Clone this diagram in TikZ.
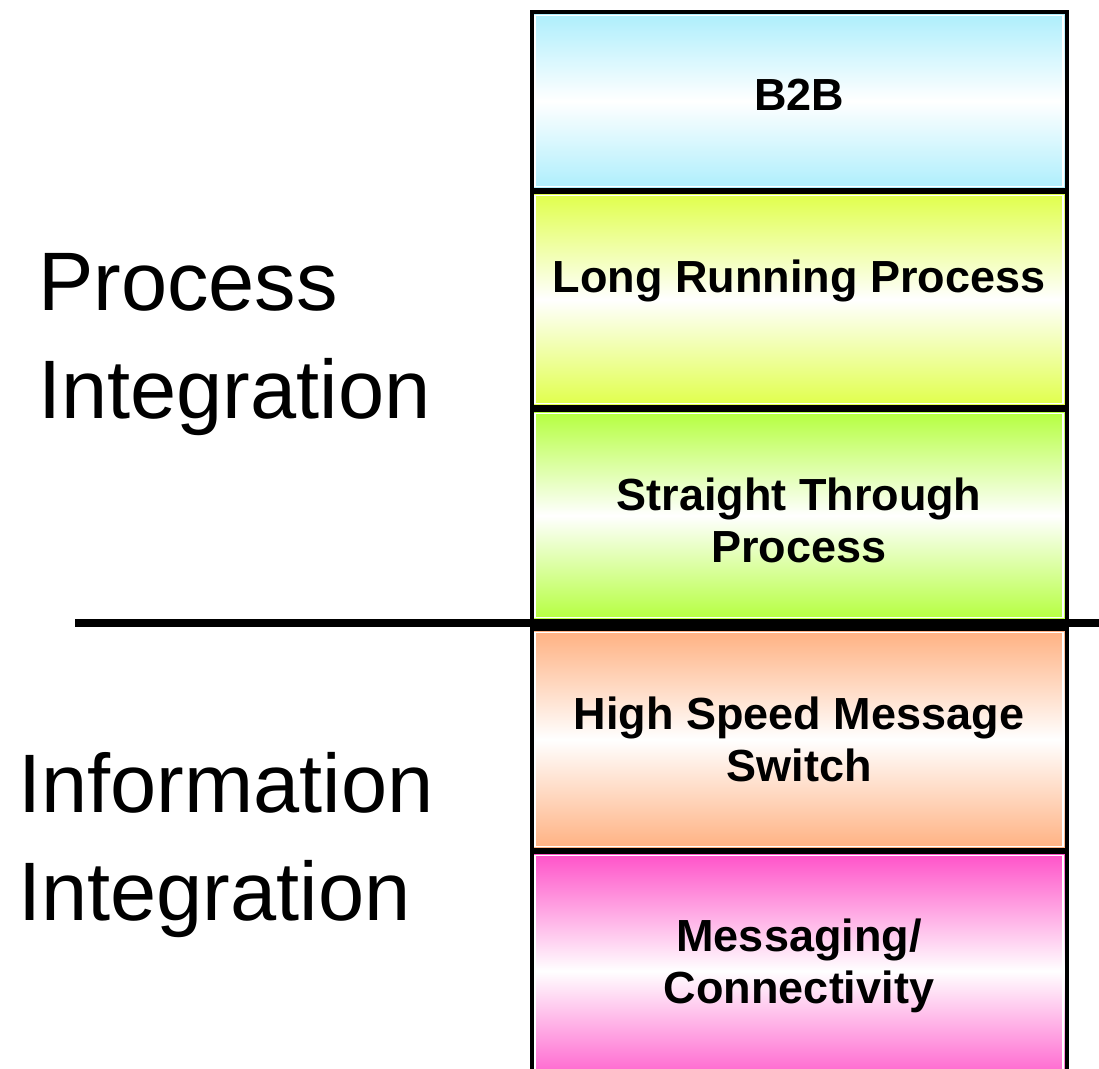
\documentclass[tikz,border=0pt]{standalone}
\usepackage{fontspec}
\setmainfont{Liberation Sans}
\usepackage{tikz}
\definecolor{btob}{HTML}{ACEEFC}
\definecolor{longrun}{HTML}{E0FF48}
\definecolor{straight}{HTML}{B4FF3C}
\definecolor{switch}{HTML}{FFB080}
\definecolor{msg}{HTML}{FF50C8}

\begin{document}
\begin{tikzpicture}[x=1pt,y=-1pt,
    layer/.style={rectangle,draw=black,line width=4pt,inner sep=0pt,outer sep=0pt,
      minimum width=535pt,top color=#1,bottom color=#1,middle color=white},
    boxtext/.style={font=\fontsize{45}{52}\selectfont\bfseries,align=center,inner sep=0pt},
    sidetext/.style={font=\fontsize{83}{108}\selectfont,align=left,inner sep=0pt,anchor=west}]
      \useasboundingbox (0,0) rectangle (1099,1068);
      \fill[white] (0,0) rectangle (1099,1068);

      \path
      (799,101) node[layer=btob,minimum height=178pt](b2b) {}
      (799,299.5) node[layer=longrun,minimum height=215pt](lrp) {}
      (799,515.5) node[layer=straight,minimum height=211pt](stp) {}
      (799,739.5) node[layer=switch,minimum height=221pt](hsms) {}
      (799,971) node[layer=msg,minimum height=238pt](conn) {}
      ;

      \foreach \n in {b2b,lrp,stp,hsms,conn}
        \draw[white,line width=1.5pt] ([shift={(3.5,3.5)}]\n.north west) rectangle ([shift={(-3.5,-3.5)}]\n.south east);

      \coordinate (divl) at (75,623);
      \coordinate (divr) at (1105,623);
      \draw[line width=8.5pt] (divl) -- (divr);

      \path
      (799,110) node[boxtext,anchor=base](b2bl) {B2B}
      (799,292) node[boxtext,anchor=base](lrpl) {Long Running Process}
      (799,520) node[boxtext](stpl) {Straight Through\\Process}
      (799,739.5) node[boxtext](hsmsl) {High Speed Message\\Switch}
      (799,966) node[boxtext](connl) {Messaging/\\Connectivity}
      (38,345) node[sidetext](proc) {Process\\Integration}
      (18,845) node[sidetext](info) {Information\\Integration}
      ;
    \end{tikzpicture}
\end{document}
